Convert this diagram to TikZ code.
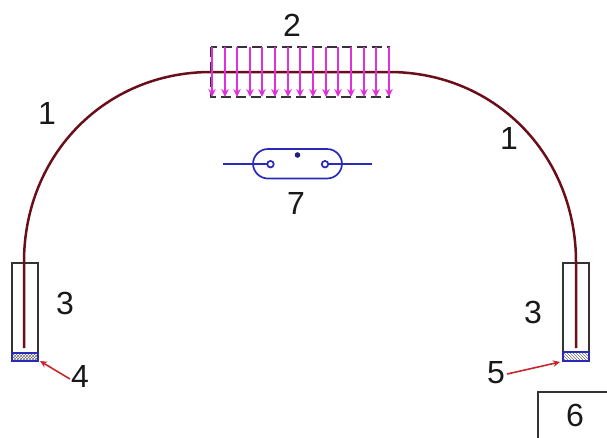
\documentclass[tikz,border=0pt]{standalone}
\usepackage{fontspec}
\setmainfont{Liberation Sans}
\usetikzlibrary{arrows.meta,patterns}
\definecolor{fibre}{HTML}{6A0F1A}
\definecolor{heat}{HTML}{E030DC}
\definecolor{bluel}{HTML}{2A2AB8}
\definecolor{redl}{HTML}{C8262C}
\definecolor{greyl}{HTML}{333333}
\tikzset{
  lab/.style={font=\fontsize{32}{32}\selectfont,text=black!90,inner sep=0pt},
  fibreline/.style={draw=fibre,line width=2.5pt},
  tube/.style={draw=greyl,line width=1.3pt},
  endcap/.style={draw=bluel,line width=1.5pt},
  heatarrow/.style={draw=heat,line width=2pt,-{Stealth[length=8pt,width=7.5pt]}},
  pointer/.style={draw=redl,line width=1.6pt,-{Stealth[length=7pt,width=6.5pt]}},
  reed/.style={draw=bluel,line width=1.7pt},
  contact/.style={draw=bluel,fill=white,line width=1.7pt,circle,minimum size=6.5pt,inner sep=0pt}
}
\begin{document}
\begin{tikzpicture}[x=1pt,y=-1pt]
\useasboundingbox (0,0) rectangle (607,437);
% tubes
\draw[tube] (12,263) rectangle (38,353);
\draw[tube] (563,263) rectangle (589,352);
% fibre
\draw[fibreline] (24,348) -- (24,262) .. controls (24,155) and (105,72) .. (211,72) -- (389,72)
  .. controls (495,72) and (576,155) .. (576,262) -- (576,348);
% end caps
\fill[pattern=crosshatch,pattern color=black!55] (12,353) rectangle (38,361);
\draw[endcap] (12,353) rectangle (38,361);
\fill[pattern=north west lines,pattern color=black!55] (563,352) rectangle (589,361);
\draw[endcap] (563,352) rectangle (589,361);
% heated region
\draw[greyl,line width=1.4pt,dash pattern=on 10pt off 5pt] (211,47) rectangle (389,97);
\foreach \hx in {212,225,237,250,262,275,288,300,313,326,338,351,364,376,389}{
  \coordinate (hs\hx) at (\hx,47);
  \coordinate (he\hx) at (\hx,97);
  \draw[heatarrow] (hs\hx) -- (he\hx);
}
% reed switch
\coordinate (ll) at (223,164.2);
\coordinate (lr) at (372,164.2);
\coordinate (il) at (270.5,164.2);
\coordinate (ir) at (325,164.2);
\draw[reed] (ll) -- (il);
\draw[reed] (ir) -- (lr);
\draw[reed,rounded corners=15pt] (253,149) rectangle (342,178.5);
\node[contact] (cl) at (il) {};
\node[contact] (cr) at (ir) {};
\fill[bluel!70!black] (297.5,155) circle (2.8pt);
% box 6
\draw[tube,line width=1.4pt] (607.5,392) -- (538,392) -- (538,437.5);
% labels
\node[lab] (n1a) at (47,113) {1};
\node[lab] (n1b) at (509,138) {1};
\node[lab] (n2) at (292,25) {2};
\node[lab] (n3a) at (65,303) {3};
\node[lab] (n3b) at (533,312) {3};
\node[lab] (n4) at (80,376) {4};
\node[lab] (n5) at (496,373) {5};
\node[lab] (n6) at (575,415) {6};
\node[lab] (n7) at (296,203) {7};
% pointers
\coordinate (capl) at (40,361);
\coordinate (capr) at (560,362);
\draw[pointer] (n4.west) ++(-1,3) -- (capl);
\draw[pointer] (n5.east) ++(2,1) -- (capr);
\end{tikzpicture}
\end{document}
